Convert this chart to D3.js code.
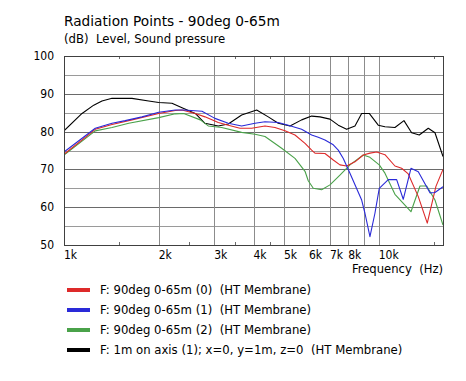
<!DOCTYPE html>
<html><head><meta charset="utf-8">
<script src="https://cdn.jsdelivr.net/npm/d3@7"></script>
<style>
body{margin:0;background:#fff}
svg{display:block}
text{font-family:"DejaVu Sans",Verdana,sans-serif;fill:#000}
.cond{font-stretch:condensed}
</style>
</head><body>
<svg id="c" width="466" height="381"></svg>
<script>
// ---- data ----
const titleText = "Radiation Points - 90deg 0-65m";
const subtitleText = "(dB)  Level, Sound pressure";
const xAxisTitle = "Frequency  (Hz)";
const yTicks = [50, 60, 70, 80, 90, 100];
const yMinorGrid = [55, 65, 75, 85, 95];
const xLabelTicks = [1000, 2000, 3000, 4000, 5000, 6000, 7000, 8000, 10000];
const xLabels = ["1k", "2k", "3k", "4k", "5k", "6k", "7k", "8k", "10k"];
const xGridTicks = [2000, 3000, 4000, 5000, 6000, 7000, 8000, 9000, 10000];
const xMinorTicks = [1500, 2500, 3500, 4500, 15000];

const seriesNames = [
  "F: 90deg 0-65m (0)  (HT Membrane)",
  "F: 90deg 0-65m (1)  (HT Membrane)",
  "F: 90deg 0-65m (2)  (HT Membrane)",
  "F: 1m on axis (1); x=0, y=1m, z=0  (HT Membrane)"
];
const seriesColors = ["#dd2a2a", "#2a2ad8", "#4aa24a", "#000000"];

const redFreq = [1000,1257,1421,1644,2000,2257,2371,2612,2805,3091,3326,3623,3947,4351,4680,5035,5418,5831,6121,6270,6747,7170,7528,7907,8403,8929,9376,9847,10464,11258,11822,12409,13354,14261,15194,16000];
const redDb   = [74.0,80.6,81.9,83.1,84.8,85.6,85.7,84.8,83.9,82.4,81.7,80.9,80.9,81.5,81.1,80.2,79.1,76.9,75.1,74.3,74.2,72.5,71.2,70.9,72.0,73.8,74.3,74.6,73.9,70.9,70.3,68.8,62.8,55.8,65.5,70.0];

const blueFreq = [1000,1257,1421,1565,1769,2000,2257,2400,2744,3017,3326,3668,4045,4351,4794,5158,5688,6121,6424,6747,7170,7437,7715,8100,8825,9040,9376,9725,10037,10720,11399,11963,12657,13354,14543,15088,16000];
const blueDb   = [74.6,80.9,82.2,82.9,83.9,85.1,85.7,85.7,85.4,83.5,82.2,81.5,82.2,82.6,82.4,81.7,80.6,79.1,78.5,77.8,76.5,75.1,72.9,69.0,61.9,58.4,52.2,58.4,65.0,67.3,67.3,62.1,70.3,69.4,63.8,63.9,65.4];

const greenFreq = [1000,1257,1421,1606,2000,2257,2400,2710,2873,3170,3668,4045,4351,4915,5418,5831,5970,6194,6585,6998,7528,8100,8929,9376,10037,10464,11258,12657,13520,14199,15088,16000];
const greenDb   = [73.8,80.2,81.1,82.2,83.7,84.7,84.8,83.1,81.5,81.1,79.8,79.3,78.7,75.6,72.9,69.5,67.0,65.0,64.6,65.9,68.5,71.2,73.8,73.2,71.2,69.0,63.4,58.8,65.6,65.6,61.9,55.3];

const blackFreq = [1000,1141,1243,1320,1421,1644,1858,2000,2203,2371,2612,2805,3091,3326,3668,4094,4457,4794,5224,5688,6121,6506,6998,7437,7907,8403,8825,9329,9963,10464,11258,12026,12720,13453,14366,15088,16000];
const blackDb   = [80.2,84.8,87.0,88.1,88.8,88.8,88.1,87.7,87.5,86.3,84.8,82.2,81.5,82.0,84.4,85.7,83.9,82.2,81.5,83.1,84.1,83.9,83.3,81.7,80.6,81.5,84.8,84.8,81.7,81.3,81.1,82.9,79.7,79.1,80.9,79.7,73.4];

const seriesFreqs = [redFreq, blueFreq, greenFreq, blackFreq];
const seriesDbs = [redDb, blueDb, greenDb, blackDb];

// ---- drawing ----
const svg = d3.select("#c");
const L = 64, R = 443, T = 56, B = 245;
const x = d3.scaleLog().domain([1000, 16000]).range([L, R]);
const y = d3.scaleLinear().domain([50, 100]).range([B, T]);

svg.append("rect").attr("width", 466).attr("height", 381).attr("fill", "#fff");

const grid = svg.append("g").attr("shape-rendering", "crispEdges");
grid.selectAll(".hm").data(yMinorGrid).join("line")
  .attr("x1", L).attr("x2", R).attr("y1", d => Math.round(y(d)) + 0.5).attr("y2", d => Math.round(y(d)) + 0.5)
  .attr("stroke", "#9a9a9a");
grid.selectAll(".hM").data(yTicks.filter(d => d > 50 && d < 100)).join("line")
  .attr("x1", L).attr("x2", R).attr("y1", d => Math.round(y(d)) + 0.5).attr("y2", d => Math.round(y(d)) + 0.5)
  .attr("stroke", "#6a6a6a");
grid.selectAll(".v").data(xGridTicks).join("line")
  .attr("x1", d => Math.round(x(d)) + 0.5).attr("x2", d => Math.round(x(d)) + 0.5)
  .attr("y1", T).attr("y2", B).attr("stroke", "#8c8c8c");
grid.selectAll(".mt").data(xMinorTicks).join("line")
  .attr("x1", d => Math.round(x(d)) + 0.5).attr("x2", d => Math.round(x(d)) + 0.5)
  .attr("y1", T).attr("y2", T + 3).attr("stroke", "#6a6a6a");
grid.selectAll(".mb").data(xMinorTicks).join("line")
  .attr("x1", d => Math.round(x(d)) + 0.5).attr("x2", d => Math.round(x(d)) + 0.5)
  .attr("y1", B - 3).attr("y2", B).attr("stroke", "#6a6a6a");

svg.append("defs").append("clipPath").attr("id", "clip")
  .append("rect").attr("x", L).attr("y", T).attr("width", R - L).attr("height", B - T);

const line = d3.line().x(d => x(d[0])).y(d => y(d[1]));
const plotG = svg.append("g").attr("clip-path", "url(#clip)");
[3, 2, 0, 1].forEach(i => {
  const pts = seriesFreqs[i].map((f, j) => [f, seriesDbs[i][j]]);
  plotG.append("path").datum(pts).attr("d", line)
    .attr("fill", "none").attr("stroke", seriesColors[i]).attr("stroke-width", 1.1)
    .attr("stroke-linejoin", "round");
});

svg.append("rect").attr("x", L + 0.5).attr("y", T + 0.5).attr("width", R - L).attr("height", B - T)
  .attr("fill", "none").attr("stroke", "#404040").attr("shape-rendering", "crispEdges");

// y labels
svg.selectAll(".yl").data(yTicks).join("text").attr("class", "cond")
  .attr("x", 54).attr("y", d => y(d) + 4).attr("text-anchor", "end")
  .attr("font-size", 12).text(d => d);

// x labels
svg.selectAll(".xl").data(xLabelTicks).join("text").attr("class", "cond")
  .attr("x", d => x(d)).attr("y", 259).attr("font-size", 12)
  .text((d, i) => xLabels[i]);

svg.append("text").attr("x", 443).attr("y", 273).attr("text-anchor", "end")
  .attr("font-size", 11.6).style("white-space", "pre").text(xAxisTitle);

svg.append("text").attr("x", 64).attr("y", 26).attr("font-size", 13.7).text(titleText);
svg.append("text").attr("x", 64).attr("y", 43).attr("font-size", 11.7)
  .style("white-space", "pre").text(subtitleText);

// legend
const lg = svg.append("g");
seriesNames.forEach((n, i) => {
  const cy = 290 + i * 20;
  lg.append("line").attr("x1", 67).attr("x2", 90).attr("y1", cy).attr("y2", cy)
    .attr("stroke", seriesColors[i]).attr("stroke-width", 4);
  lg.append("text").attr("x", 100).attr("y", cy + 3.5)
    .attr("font-size", 11.7).style("white-space", "pre").text(n);
});
</script>
</body></html>
